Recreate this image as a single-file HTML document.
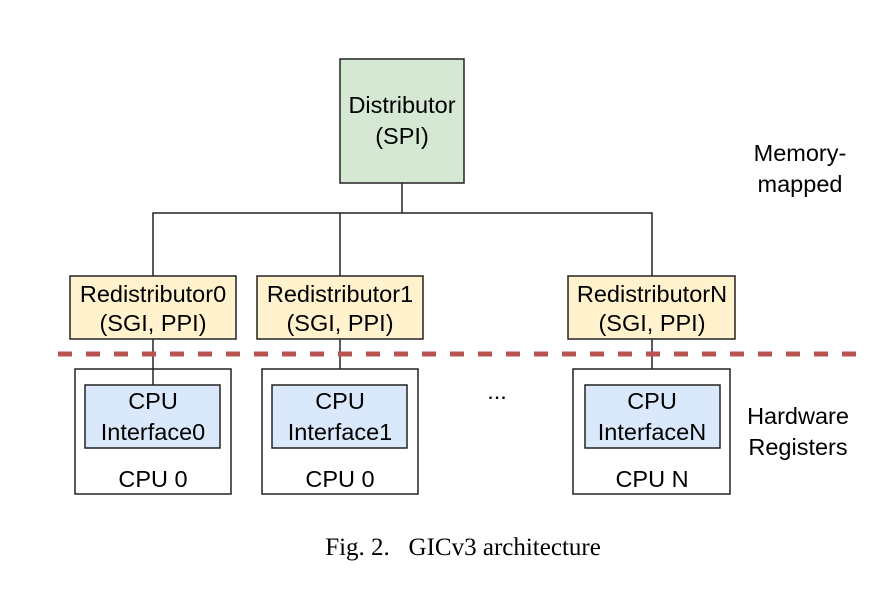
<!DOCTYPE html>
<html><head><style>
body{margin:0;background:#fff;}
svg text{font-family:"Liberation Sans",Arial,sans-serif;font-size:23.5px;fill:#000;}
</style></head><body>
<svg width="893" height="588" xmlns="http://www.w3.org/2000/svg">
<g stroke="#222" stroke-width="1.5" fill="none">
<line x1="402" y1="183" x2="402" y2="213"/>
<polyline points="153,276 153,213 652,213 652,276"/>
<line x1="340" y1="213" x2="340" y2="276"/>
<line x1="153" y1="339" x2="153" y2="385"/>
<line x1="340" y1="339" x2="340" y2="369"/>
<line x1="652" y1="339" x2="652" y2="369"/>
</g>
<rect x="340" y="59" width="124" height="124" fill="#d5e8d4" stroke="#222" stroke-width="1.5"/>
<text x="402" y="113" text-anchor="middle">Distributor</text>
<text x="402" y="144" text-anchor="middle">(SPI)</text>
<g fill="#fff2cc" stroke="#222" stroke-width="1.5">
<rect x="70" y="276" width="166" height="63"/>
<rect x="257" y="276" width="166" height="63"/>
<rect x="568" y="276" width="167" height="63"/>
</g>
<text x="153" y="302" text-anchor="middle">Redistributor0</text>
<text x="153" y="331" text-anchor="middle">(SGI, PPI)</text>
<text x="340" y="302" text-anchor="middle">Redistributor1</text>
<text x="340" y="331" text-anchor="middle">(SGI, PPI)</text>
<text x="652" y="302" text-anchor="middle">RedistributorN</text>
<text x="652" y="331" text-anchor="middle">(SGI, PPI)</text>
<line x1="58" y1="354" x2="862" y2="354" stroke="#b85450" stroke-width="5" stroke-dasharray="14,14"/>
<g stroke="#222" stroke-width="1.5">
<rect x="75" y="369" width="156" height="125" fill="none"/>
<rect x="262" y="369" width="156" height="125" fill="none"/>
<rect x="573" y="369" width="157" height="125" fill="none"/>
<rect x="85" y="385" width="135" height="63" fill="#dae8fc"/>
<rect x="272" y="385" width="135" height="63" fill="#dae8fc"/>
<rect x="585" y="385" width="135" height="63" fill="#dae8fc"/>
</g>
<text x="153" y="409" text-anchor="middle">CPU</text>
<text x="153" y="440" text-anchor="middle">Interface0</text>
<text x="153" y="487" text-anchor="middle">CPU 0</text>
<text x="340" y="409" text-anchor="middle">CPU</text>
<text x="340" y="440" text-anchor="middle">Interface1</text>
<text x="340" y="487" text-anchor="middle">CPU 0</text>
<text x="652" y="409" text-anchor="middle">CPU</text>
<text x="652" y="440" text-anchor="middle">InterfaceN</text>
<text x="652" y="487" text-anchor="middle">CPU N</text>
<text x="497" y="399" text-anchor="middle">...</text>
<text x="800" y="161" text-anchor="middle">Memory-</text>
<text x="800" y="192" text-anchor="middle">mapped</text>
<text x="798" y="424" text-anchor="middle">Hardware</text>
<text x="798" y="455" text-anchor="middle">Registers</text>
<text x="463" y="555" text-anchor="middle" style="font-family:'Liberation Serif',serif;font-size:25px;" xml:space="preserve">Fig. 2.   GICv3 architecture</text>
</svg>
</body></html>
